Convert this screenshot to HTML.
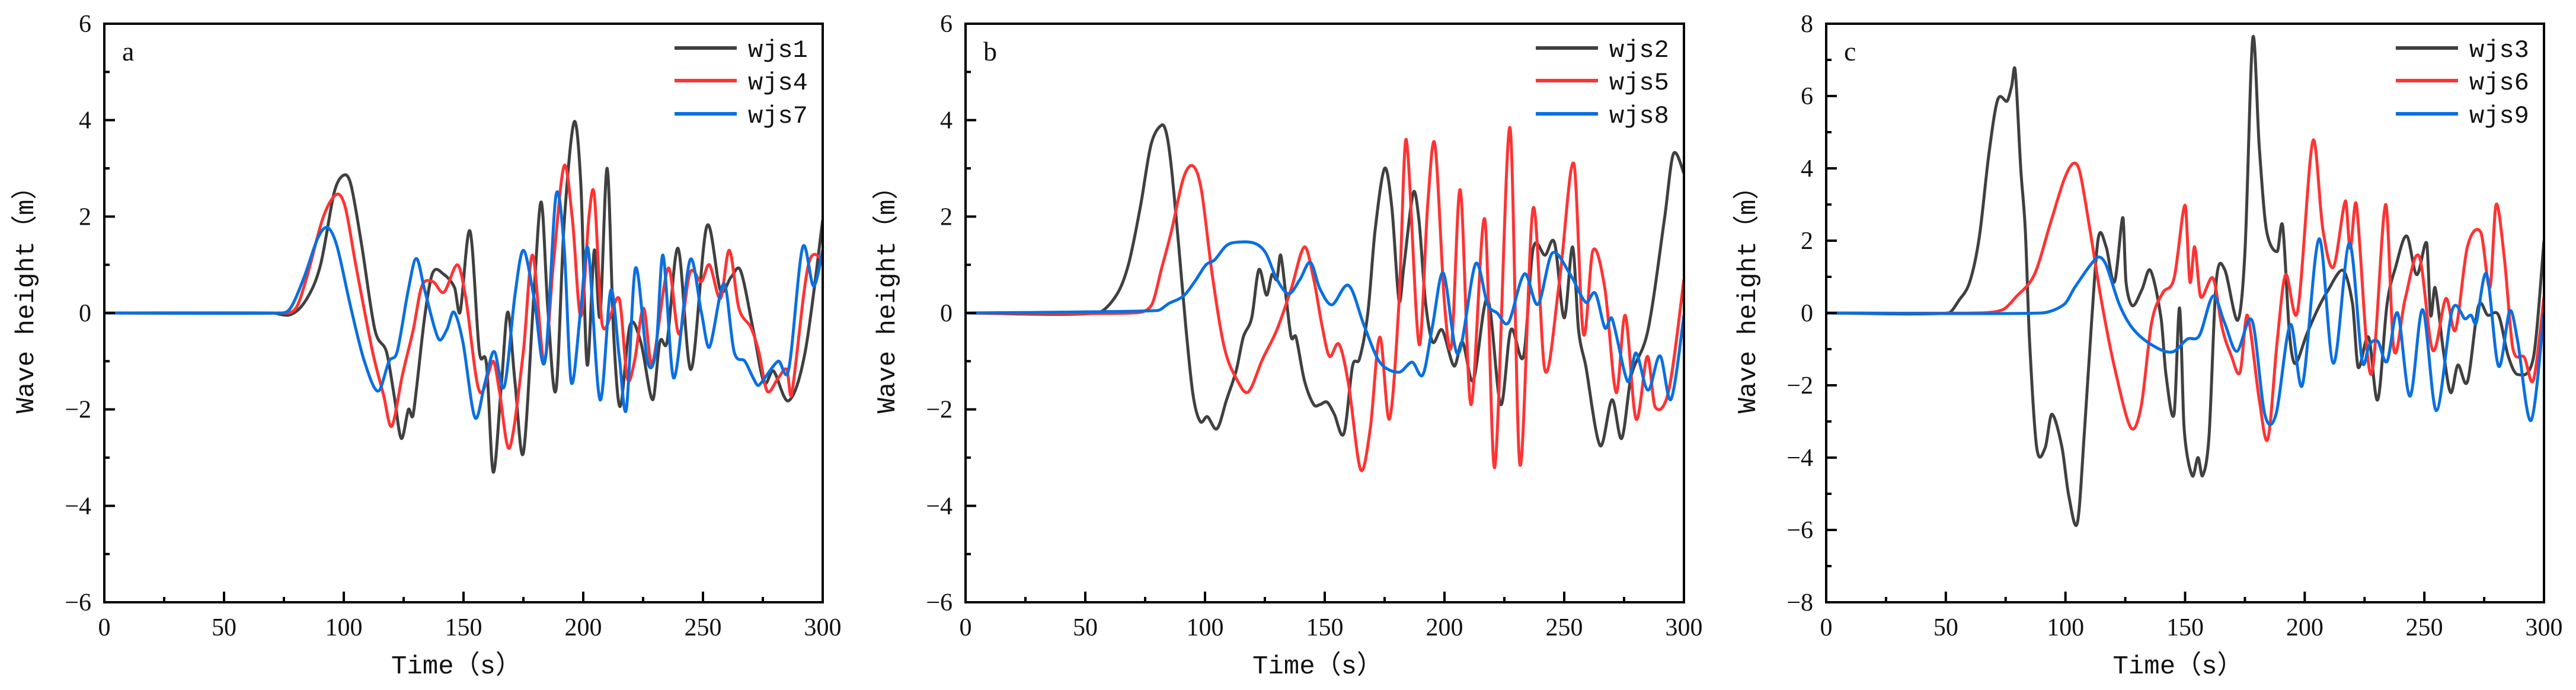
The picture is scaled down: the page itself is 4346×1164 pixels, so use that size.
<!DOCTYPE html>
<html><head><meta charset="utf-8">
<style>
html,body{margin:0;padding:0;background:#fff;}
svg{display:block;}
</style></head>
<body>
<svg id="chart" width="4346" height="1164" viewBox="0 0 4346 1164" xmlns="http://www.w3.org/2000/svg"></svg>
<script>
// ---------- Panel a ----------
const tA1 = [0,70,78,84.6,90.3,96,100,103,107.5,113,117.8,121,124,127,129,133.8,137.2,141.8,146.3,148.6,152.7,156.6,159.6,162.4,165.8,168.5,171.5,175,179.5,182.5,185.2,188.6,192,196.2,199,201.6,204.6,207,210,212.7,215.4,219.5,224,229,232,235,239.6,245,251.6,257.3,261.8,265.7,271,275.5,279.4,285.8,292.7,300];
const vA1 = [0,0,-0.03,0.3,1.0,2.5,2.86,2.66,1.4,-0.35,-0.8,-1.7,-2.6,-2.0,-2.1,-0.07,0.84,0.8,0.52,0.02,1.7,-0.8,-1.07,-3.3,-1.5,0.02,-1.44,-2.9,0.47,2.3,0.1,-1.6,1.84,3.96,2.66,-1.07,1.3,-0.07,3.0,-0.44,-1.94,-0.26,-0.6,-1.8,-0.6,-0.6,1.34,-1.17,1.8,0.47,0.75,0.88,-0.35,-1.44,-1.2,-1.82,-0.8,1.93];
const tA4 = [0,74,80,84.6,91.5,97,100.6,105,112,116.6,120,124.6,129,132.6,137.2,141.8,147.5,151,156.6,162.4,165,169.2,175,178.8,183.7,187.5,192,195.5,199,202.4,204.6,208,215,218.4,221.4,225.2,228.7,235.5,240,244.6,249.3,252.7,257.3,261,265,270,273.3,276.8,281.4,285,287,294,300];
const vA4 = [0,0,0.1,0.75,2.0,2.46,2.2,1.0,-0.8,-1.7,-2.35,-1.26,-0.35,0.56,0.65,0.43,1.0,0.3,-1.62,-1.0,-1.62,-2.8,-0.8,1.2,-1.0,1.0,3.05,1.93,-0.07,2.0,2.46,-0.26,0.3,-1.35,-1.0,0.1,-1.07,0.93,-0.44,0.84,0.65,1.0,0.3,1.3,0.1,-0.3,-0.8,-1.62,-1.35,-1.17,-1.7,1.0,1.1];
const tA7 = [0,73,77.7,83.5,89.2,93.3,97.2,103,108.6,114.3,118.9,122.3,126.9,130.3,133.8,139.5,143,146,149.8,154.8,159,162.8,167,171.5,175,179.5,184,188.6,192,195,199,202,207,211.5,215,218,221.8,226.8,230.3,233.3,237.8,244.6,249.3,252.7,258.8,263,267.5,271,273.3,281.4,285.8,291.6,296.2,300];
const vA7 = [0,0,0.1,0.75,1.56,1.77,1.38,0.1,-1.0,-1.62,-1.0,-0.8,0.47,1.13,0.47,-0.53,-0.35,0.02,-0.62,-2.17,-1.44,-0.8,-1.53,0.38,1.3,0.3,-1.0,2.43,1.38,-1.44,0.1,1.34,-1.8,0.47,-0.89,-2.0,0.93,-1.0,-0.8,1.2,-1.35,1.1,0.02,-0.71,0.61,-0.8,-1.0,-1.35,-1.5,-1.0,-1.17,1.36,0.56,1.3];
// ---------- Panel b ----------
const tB2 = [0,55,63,68,73,77.5,82,84,86,89,92,95,98,101,105,109,113,116,119.5,122.5,125.7,128,130,131.6,134,136,138,141.5,145.4,148,151,154,158,161.6,164.5,168,171,175,178,181,183,187,189.4,192,195,199,204,207.5,212,218,223.5,227.7,233,237,242,246,250,253.5,256,259,265,270,274,278,285,292,295.6,300];
const vB2 = [0,0,0.37,1.0,2.2,3.5,3.9,3.7,3.0,1.4,-0.3,-1.7,-2.25,-2.15,-2.4,-1.8,-1.2,-0.5,-0.1,0.9,0.37,0.8,0.7,1.2,0.26,-0.5,-0.5,-1.4,-1.9,-1.9,-1.85,-2.1,-2.5,-1.1,-0.95,0,1.7,3.0,2.2,0.26,0.95,2.5,1.9,0.26,-0.6,-0.35,-1.1,-0.6,-1.4,0.3,-1.9,-0.35,-0.9,1.33,1.2,1.45,-0.1,1.37,-0.35,-1.1,-2.75,-1.8,-2.6,-1.3,-0.35,2.0,3.3,2.9];
const tB5 = [0,69,77.5,82,86,91,95,98.5,103,108,113,118,124,130,136,141.5,145.4,149,152,156,160,165,169,173,177,181,184,189.4,193,196,200,203,206.6,211,216.8,221,227.3,231.5,237,242,248,254,258,262,267,271.7,275.5,280,284.7,288,293.7,300];
const vB5 = [0,0,0.15,0.95,1.7,2.8,3.05,2.55,0.8,-0.7,-1.35,-1.64,-0.96,-0.35,0.5,1.37,0.7,-0.3,-0.9,-0.65,-1.5,-3.25,-2.4,-0.5,-2.2,0.2,3.6,-0.65,2.25,3.5,0.2,-0.65,2.55,-1.9,1.95,-3.2,3.85,-3.15,2.17,-1.2,0.65,3.1,-0.43,1.3,0.5,-1.65,-0.05,-2.2,-0.9,-1.95,-1.6,0.7];
const tB8 = [0,80,85,91,95.7,100.4,104,109,114,120.5,125.3,130,135,139.7,144,148,153,160,166.5,173,181,186.5,191,195,199.5,205.6,213,218,222,226.7,233.4,239,245,252.5,259,263,267,270,276.5,280,285,290,294.6,300];
const vB8 = [0,0.05,0.2,0.35,0.65,1.0,1.1,1.4,1.47,1.45,1.25,0.7,0.4,0.7,1.05,0.5,0.17,0.57,-0.27,-1.02,-1.23,-1.02,-1.28,-0.27,0.83,-0.85,1.02,0.18,0.0,-0.2,0.81,0.18,1.24,0.8,0.22,0.41,-0.31,-0.12,-1.42,-0.83,-1.6,-0.89,-1.79,-0.05];
// ---------- Panel c ----------
const tC3 = [0,51,55.5,60,64,68,71.7,75.6,77.5,79,81.3,83.2,85,88,91.5,94.3,98.5,101.4,105,108,111,113.8,117,120.5,124,125.3,128,132,135.5,140,142,145.4,147.7,149.6,153,155.4,157.3,160,163,166.5,172,175,178.3,181,184,188.5,190.8,193.6,196,201,205.7,209.5,216,220,222.3,226.7,230.5,234.4,238,242.6,246.8,251,252.6,254.5,258,261,264,268,272.6,276.5,281,285,289,295.6,300];
const vC3 = [0,0,0.35,0.86,2.1,4.4,5.9,5.86,6.27,6.7,4.0,2.3,-0.78,-3.73,-3.73,-2.8,-3.7,-5.06,-5.8,-3.2,-0.16,2.1,1.83,0.86,2.64,0.86,0.2,0.65,1.18,-0.16,-1.7,-2.8,0.14,-3.2,-4.5,-4.0,-4.5,-3.4,0.86,1.21,-0.2,1.67,7.6,4.6,2.3,1.7,2.4,-0.56,-1.4,-0.56,0.14,0.6,1.18,0.24,-1.5,-0.67,-2.4,0.24,1.27,2.13,1.06,1.93,-0.06,0.7,-1.08,-2.2,-1.44,-1.9,0.19,-0.06,-0.06,-1.18,-1.7,-1.23,2.0];
const tC6 = [0,63,73.7,79.4,87,93.8,99.5,103.3,106,110,115,120.5,127.3,131.6,136,140.6,145.4,150,152,154,156.5,161.7,165.5,169.3,173,176,181,184.6,188.5,192,197,203.4,207.6,212,217,219,221.6,227.7,233.8,237.3,242,247.8,253.5,259,263,268,273.6,277.4,280,283.5,287,291.8,295.6,300];
const vC6 = [0,0,0.09,0.45,1.06,2.5,3.7,4.14,3.9,2.4,0.35,-1.5,-3.17,-2.6,-0.27,0.55,0.96,2.98,0.86,1.83,0.45,0.96,-0.42,-1.18,-1.64,-0.06,-2.4,-3.48,-0.78,1.06,0.04,4.76,2.3,1.27,3.1,1.78,3.0,-1.7,3.0,-1.03,0.4,1.57,-1.03,0.4,-0.47,1.83,2.23,0.7,3.0,1.47,-0.98,-1.23,-1.85,0.45];
const tC9 = [0,90,99.5,104,113,116.7,122.5,128,136,144.5,151,156,161.7,166.5,171.6,178,183.3,188,194,199,206,212,218.7,224,227,230.5,234.4,238.8,244,249.3,255,261.7,267,269.5,271.7,276,281,285.7,289,294.6,300];
const vC9 = [0,0,0.24,0.72,1.52,1.37,0.24,-0.42,-0.88,-1.08,-0.72,-0.62,0.47,-0.27,-1.06,-0.21,-2.8,-2.8,-0.32,-2.0,2.05,-1.39,1.93,-1.34,-0.88,-0.78,-1.34,0.0,-2.3,0.09,-2.7,0.09,-0.16,-0.06,-0.27,1.08,-1.47,0.06,-0.78,-2.97,0.0];

const xTicks = [0,50,100,150,200,250,300];
const yTicksAB = [-6,-4,-2,0,2,4,6];
const yTicksC = [-8,-6,-4,-2,0,2,4,6,8];
const names = {a:['wjs1','wjs4','wjs7'], b:['wjs2','wjs5','wjs8'], c:['wjs3','wjs6','wjs9']};

const NS = 'http://www.w3.org/2000/svg';
const svg = document.getElementById('chart');
const COLORS = ['#404040','#ff3333','#0a6fe0'];
const TOP = 40, BOT = 1016;

function mk(tag, attrs, parent){
  const e = document.createElementNS(NS, tag);
  for (const k in attrs) e.setAttribute(k, attrs[k]);
  (parent||svg).appendChild(e);
  return e;
}
function smoothPath(pts){
  let d = 'M' + pts[0][0].toFixed(1) + ',' + pts[0][1].toFixed(1);
  for (let i = 0; i < pts.length - 1; i++){
    const p0 = pts[Math.max(0,i-1)], p1 = pts[i], p2 = pts[i+1], p3 = pts[Math.min(pts.length-1,i+2)];
    // limit tangent span for long segments (flat lead-in)
    const k1 = Math.min(1, (p2[0]-p1[0]) / Math.max(1e-6, (p2[0]-p0[0]))*2);
    const k2 = Math.min(1, (p2[0]-p1[0]) / Math.max(1e-6, (p3[0]-p1[0]))*2);
    const c1x = p1[0] + (p2[0]-p0[0])/6*k1, c1y = p1[1] + (p2[1]-p0[1])/6*k1;
    const c2x = p2[0] - (p3[0]-p1[0])/6*k2, c2y = p2[1] - (p3[1]-p1[1])/6*k2;
    d += ' C' + c1x.toFixed(1)+','+c1y.toFixed(1)+' '+c2x.toFixed(1)+','+c2y.toFixed(1)+' '+p2[0].toFixed(1)+','+p2[1].toFixed(1);
  }
  return d;
}

function panel(id, L, R, ymin, ymax, yTicks, series, labels){
  const g = mk('g', {});
  
  
  const xs = t => L + (t/300)*(R-L);
  const ys = v => BOT - (v-ymin)/(ymax-ymin)*(BOT-TOP);
  const cp = mk('clipPath', {id:'clip-'+id}, g);
  mk('rect', {x:L, y:TOP, width:R-L, height:BOT-TOP}, cp);
  series.forEach((s, i) => {
    const pts = s[0].map((t, k) => [xs(t), ys(s[1][k])]);
    const p = mk('path', {d:smoothPath(pts), fill:'none', stroke:COLORS[i], 'stroke-width':5, 'stroke-linejoin':'round', 'clip-path':'url(#clip-'+id+')'}, g);
    
    
  });
  const fr = mk('rect', {x:L, y:TOP, width:R-L, height:BOT-TOP, fill:'none', stroke:'#000', 'stroke-width':4}, g);
  
  
  for (let t = 0; t <= 300; t += 25){
    const len = (t % 50 === 0) ? 18 : 9;
    mk('line', {x1:xs(t), x2:xs(t), y1:BOT, y2:BOT-len, stroke:'#000', 'stroke-width':4}, g);
  }
  xTicks.forEach(t => {
    const tx = mk('text', {x:xs(t), y:1072, 'text-anchor':'middle', 'font-family':'Liberation Serif, serif', 'font-size':42, fill:'#111'}, g);
    tx.textContent = t;
    
    
  });
  for (let v = ymin; v <= ymax; v += 1){
    const len = (v % 2 === 0) ? 18 : 9;
    mk('line', {x1:L, x2:L+len, y1:ys(v), y2:ys(v), stroke:'#000', 'stroke-width':4}, g);
  }
  yTicks.forEach(v => {
    const tx = mk('text', {x:L-22, y:ys(v)+14, 'text-anchor':'end', 'font-family':'Liberation Serif, serif', 'font-size':42, fill:'#111'}, g);
    tx.textContent = v < 0 ? '\u2212' + Math.abs(v) : String(v);
    
    
  });
  const xt = mk('text', {x:(L+R)/2 - 12, y:1136, 'text-anchor':'middle', 'font-family':'Liberation Mono, Noto Sans CJK SC, monospace', 'font-size':44, fill:'#111'}, g);
  xt.textContent = 'Time\uFF08s\uFF09';
  
  
  const yt = mk('text', {x:0, y:0, 'text-anchor':'middle', 'font-family':'Liberation Mono, Noto Sans CJK SC, monospace', 'font-size':44, fill:'#111', transform:'translate('+(L-120)+',495) rotate(-90)'}, g);
  yt.textContent = 'Wave height\uFF08m\uFF09';
  
  
  const pl = mk('text', {x:L+30, y:102, 'font-family':'Liberation Serif, serif', 'font-size':46, fill:'#111'}, g);
  pl.textContent = id;
  
  
  const rows = [81,136,192];
  labels.forEach((lab, i) => {
    const lg = mk('g', {}, g);
    
    
    mk('line', {x1:R-250, x2:R-145, y1:rows[i], y2:rows[i], stroke:COLORS[i], 'stroke-width':6}, lg);
    const tx = mk('text', {x:R-126, y:rows[i]+15, 'font-family':'Liberation Mono, monospace', 'font-size':42, fill:'#111'}, lg);
    tx.textContent = lab;
  });
}

panel('a', 176, 1388, -6, 6, yTicksAB, [[tA1,vA1],[tA4,vA4],[tA7,vA7]], names.a);
panel('b', 1629, 2841, -6, 6, yTicksAB, [[tB2,vB2],[tB5,vB5],[tB8,vB8]], names.b);
panel('c', 3081, 4292, -8, 8, yTicksC, [[tC3,vC3],[tC6,vC6],[tC9,vC9]], names.c);
</script>
</body></html>
